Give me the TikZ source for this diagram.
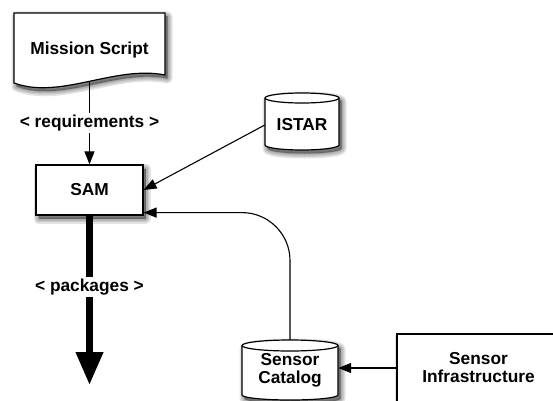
\documentclass[tikz,border=0pt]{standalone}
\usepackage{fontspec}
\setmainfont{Liberation Sans}
\usetikzlibrary{arrows.meta,calc}

\begin{document}
\begin{tikzpicture}[x=1pt,y=1pt,
  font=\fontsize{17.3}{18}\selectfont\bfseries,
  % soft drop shadow built from stacked translucent copies of the outline
  shadowlayer/.style={preaction={fill=black,draw=black,opacity=0.11,line width=#1,
      line join=round,transform canvas={xshift=2.5pt,yshift=-3.5pt}}},
  softshadow/.style={shadowlayer=10pt,shadowlayer=7pt,shadowlayer=4pt,shadowlayer=1.5pt},
  outline/.style={draw=black,line width=1.2pt,fill=white,softshadow},
  textbox/.style={inner sep=0pt,align=center},
  link/.style={line width=1.1pt,-{Triangle[length=13pt,width=10pt]}},
  tag/.style={fill=white,inner sep=2pt}]

\useasboundingbox (0,0) rectangle (553,400);
\clip (0,0) rectangle (553,400);

% Mission script: document shape with a wavy bottom edge
\filldraw[outline] (14,387) -- (165,387) -- (165,325)
  .. controls (115,335) and (60,300) .. (14,317) -- cycle;
\node[textbox, minimum width=151pt, minimum height=63.2pt] (mission) at (89.5,350) {Mission Script};

% SAM
\node[outline, inner sep=0pt, minimum width=107pt, minimum height=50pt] (sam) at (89.5,210) {SAM};

% ISTAR database
\filldraw[outline] (265,302) -- (265,255)
  arc[start angle=180,end angle=360,x radius=37,y radius=5] -- (339,302)
  arc[start angle=0,end angle=180,x radius=37,y radius=5] -- cycle;
\draw[line width=1.2pt] (265,302) arc[start angle=180,end angle=360,x radius=37,y radius=5];
\node[textbox, minimum width=74pt, minimum height=50pt] (istar) at (302,275) {ISTAR};

% Sensor catalog database
\filldraw[outline] (242,54.5) -- (242,5)
  arc[start angle=180,end angle=360,x radius=48,y radius=5] -- (338,54.5)
  arc[start angle=0,end angle=180,x radius=48,y radius=5.5] -- cycle;
\draw[line width=1.2pt] (242,54.5) arc[start angle=180,end angle=360,x radius=48,y radius=5.5];
\node[textbox, minimum width=96pt, minimum height=60pt] (catalog) at (290,30) {Sensor\\Catalog};

% Sensor infrastructure
\node[outline, align=center, minimum width=163pt, minimum height=68pt] (infra) at (478.5,32) {Sensor\\Infrastructure};

% connectors
\coordinate (sink) at (89.5,15);
\draw[link] (mission.south) -- node[tag] {< requirements >} (sam.north);
\draw[link] (istar.west) -- (sam.east);
\draw[link, rounded corners=48pt] (catalog.north) |- ([yshift=3pt]sam.south east);
\draw[link] (infra.west) -- (infra.west -| catalog.east);
\draw[line width=7pt, -{Triangle[length=33pt,width=26pt]}] (sam.south) -- node[tag, pos=0.42] {< packages >} (sink);

\end{tikzpicture}
\end{document}
